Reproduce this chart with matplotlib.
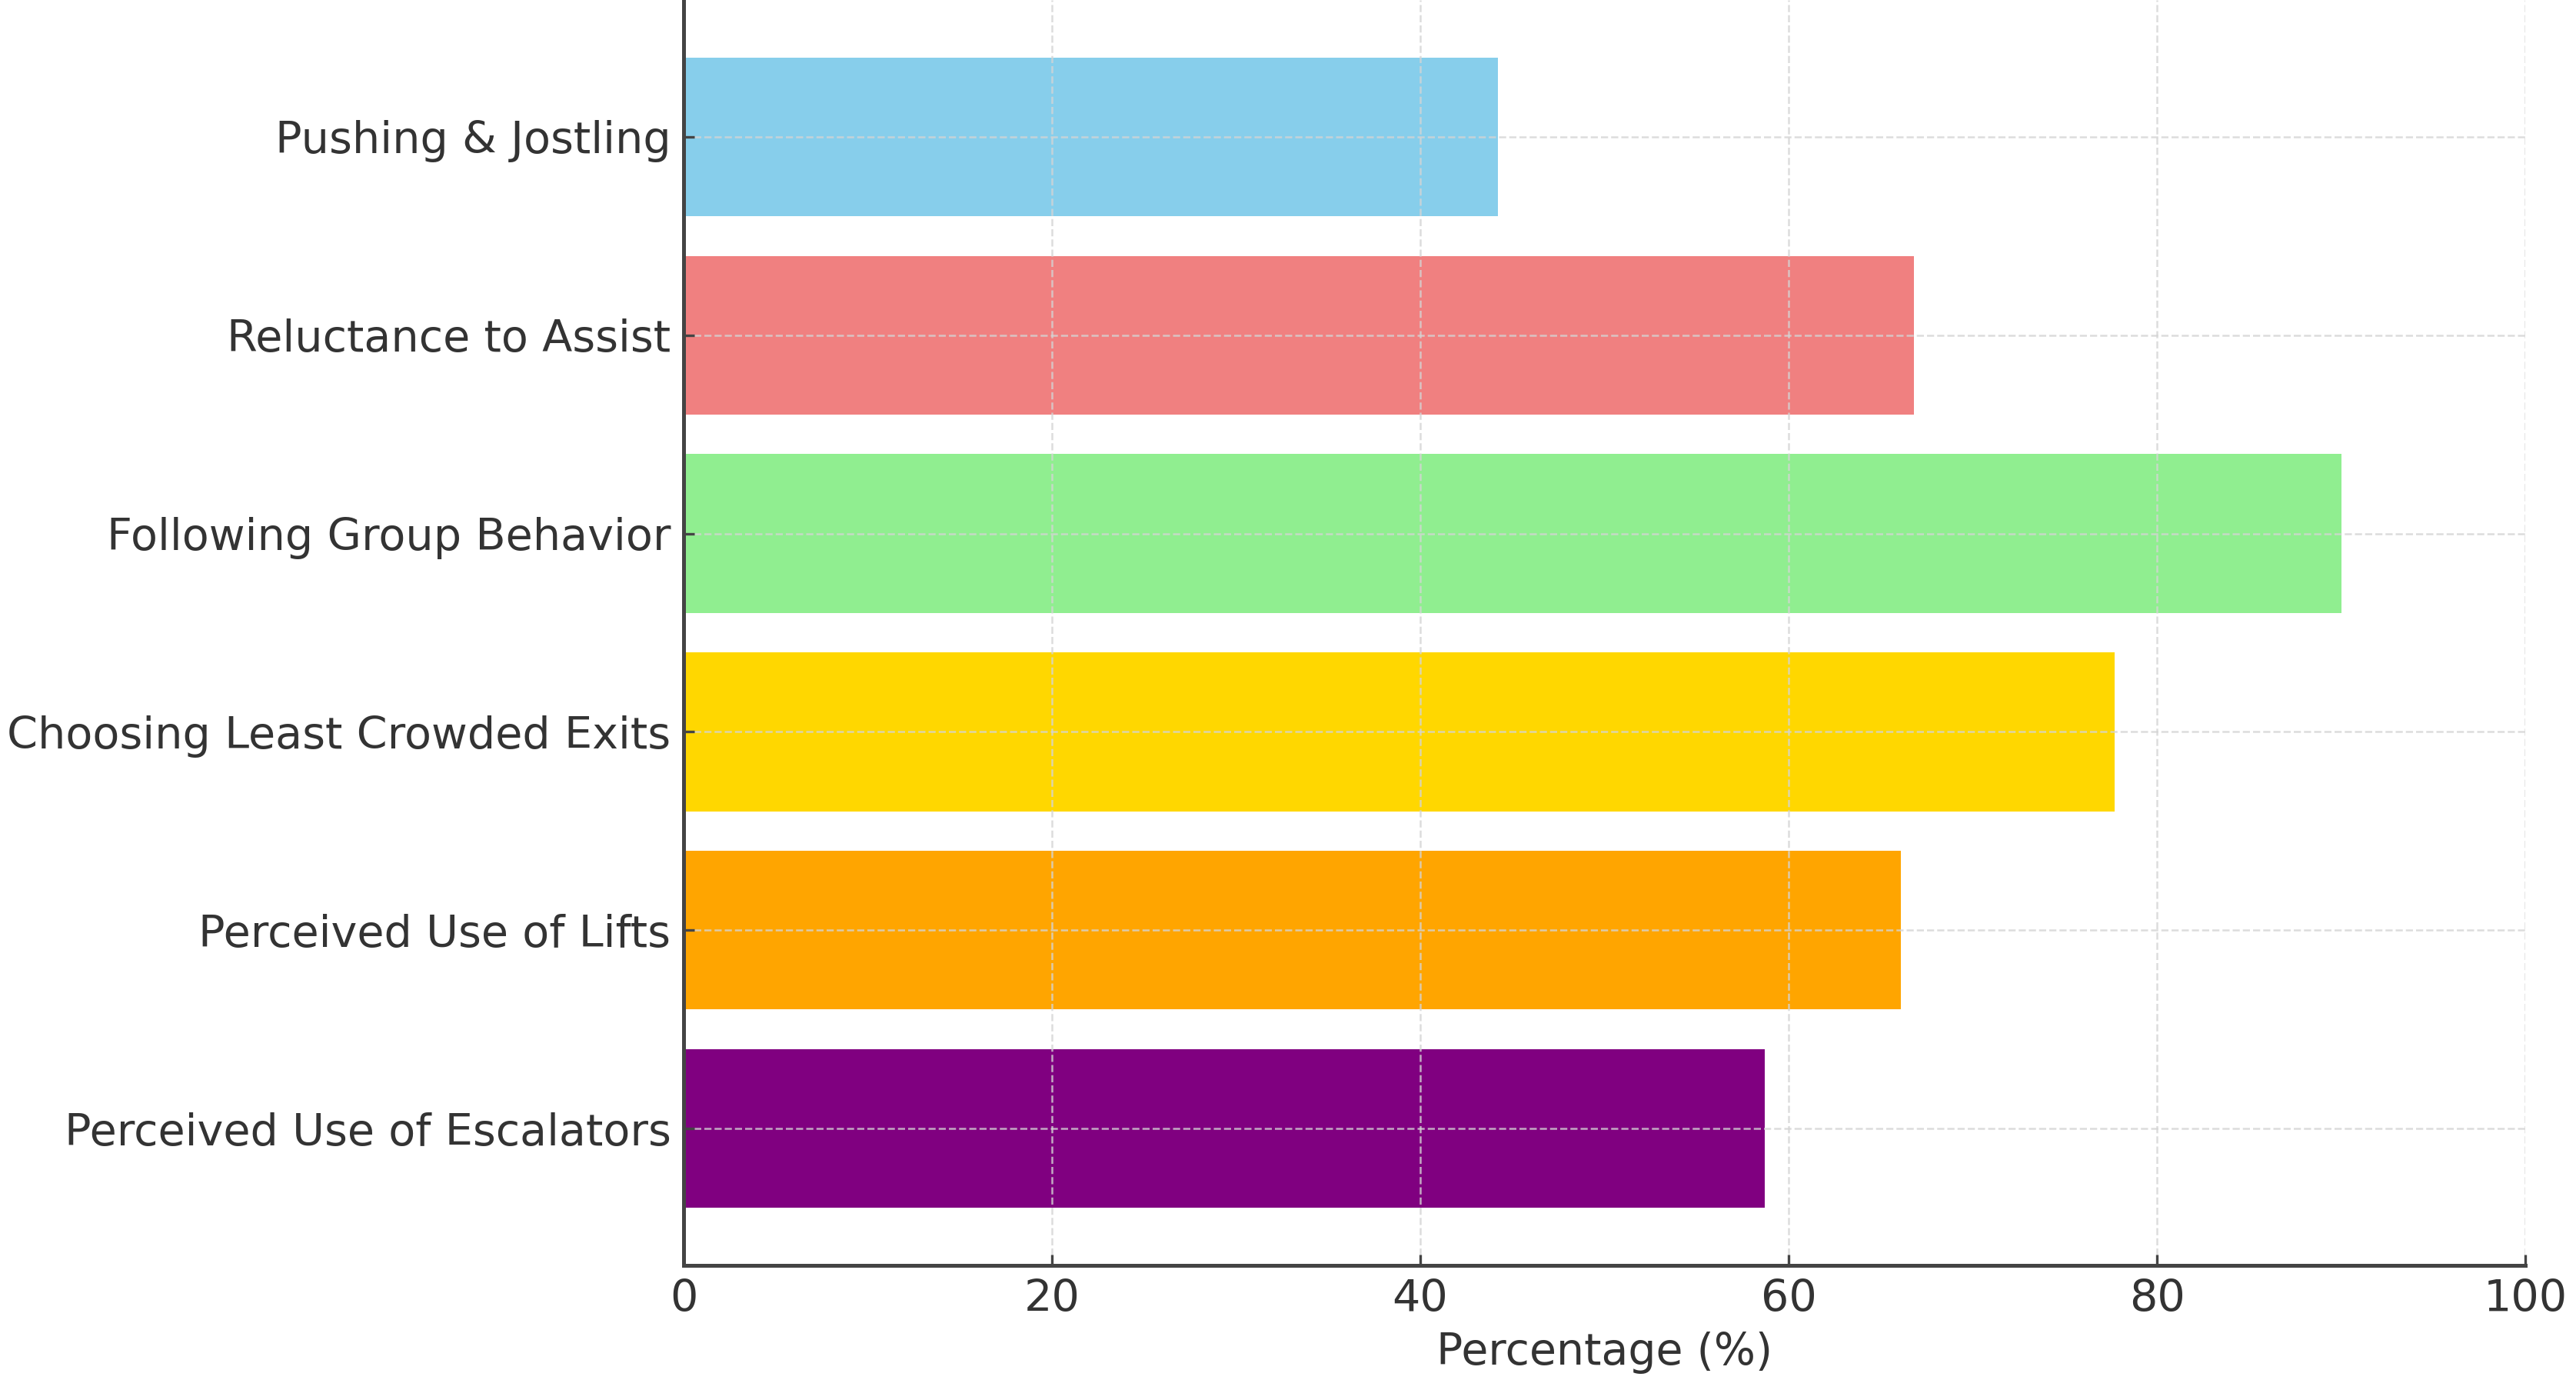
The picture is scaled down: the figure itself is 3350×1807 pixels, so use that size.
import matplotlib

matplotlib.use("Agg")
import matplotlib.pyplot as plt

behaviours = [
    "Perceived Use of Escalators",
    "Perceived Use of Lifts",
    "Choosing Least Crowded Exits",
    "Following Group Behavior",
    "Reluctance to Assist",
    "Pushing & Jostling",
]
percentages = [58.7, 66.1, 77.7, 90.0, 66.8, 44.2]
bar_colors = ["purple", "orange", "gold", "lightgreen", "lightcoral", "skyblue"]
x_ticks = [0, 20, 40, 60, 80, 100]

TEXT = "#333333"
SPINE = "#444444"


def main() -> None:
    plt.rcParams["font.family"] = ["DejaVu Sans"]

    fig = plt.figure(figsize=(16.75, 9.035), dpi=200)
    ax = fig.add_axes([0.2654, 0.0896, 0.7149, 0.9104])

    ax.barh(behaviours, percentages, color=bar_colors, height=0.8)

    ax.set_xlim(0, 100)
    ax.set_xticks(x_ticks)
    ax.set_xlabel("Percentage (%)", fontsize=20.5, color=TEXT, labelpad=5)

    ax.grid(True, linestyle="--", color="#d4d4d4", linewidth=0.9, alpha=0.8)

    for side in ("top", "right"):
        ax.spines[side].set_visible(False)
    for side in ("left", "bottom"):
        ax.spines[side].set_color(SPINE)
        ax.spines[side].set_linewidth(1.8)

    ax.tick_params(axis="both", direction="in", length=5, width=1.2,
                   color=SPINE, labelsize=20.6, labelcolor=TEXT, pad=6)

    fig.savefig("out.png", dpi=200, facecolor="white")
    plt.close(fig)


if __name__ == "__main__":
    main()
